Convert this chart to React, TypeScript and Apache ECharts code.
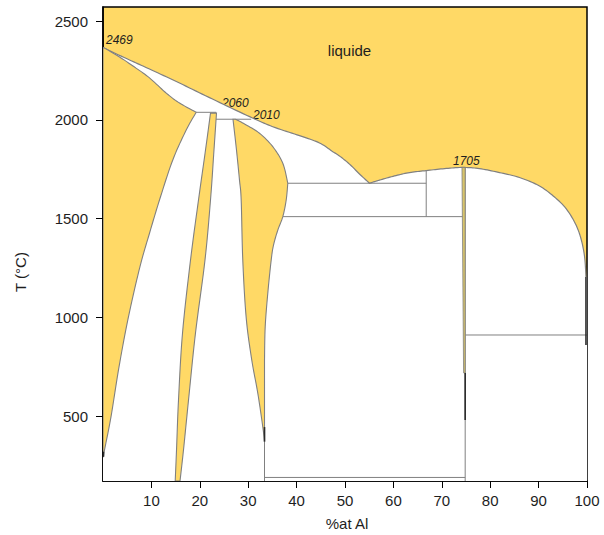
import React, { useEffect, useRef } from "react";
import * as echarts from "echarts";

// ---- Data (composition in at.% Al, temperature in °C) ----
const xTicks = [10, 20, 30, 40, 50, 60, 70, 80, 90, 100];
const yTicks = [500, 1000, 1500, 2000, 2500];

// liquidus, Nb side down to the 1605 eutectic, then up over NbAl3 to the Al side
const liquidusX = [0, 5.48, 9.61, 15.81, 22.62, 30.3, 35.08, 40.6, 44.73, 47.48, 48.86, 50.93, 52.99, 55.06, 57.13, 60.23, 63.33, 66.78, 70.56, 74.34, 77.79, 81.92, 86.05, 90.19, 93.29, 95.56, 97.42, 98.66, 99.48, 99.79];
const liquidusT = [2365, 2303, 2257, 2186, 2105, 2016, 1965, 1920, 1883, 1839, 1817, 1776, 1726, 1679, 1695, 1716, 1733, 1743, 1753, 1759, 1753, 1733, 1708, 1665, 1609, 1554, 1483, 1407, 1311, 1204];
const liquidusKink = 13;

const betaSolidusX = [0, 0.31, 3.41, 6.51, 9.61, 13.12, 15.81, 19.26];
const betaSolidusT = [2365, 2363, 2318, 2267, 2212, 2134, 2085, 2038];
const betaSolvusX = [19.26, 17.19, 14.42, 11.67, 9.61, 7.64, 5.27, 3.31, 1.65, 0.31, 0.1];
const betaSolvusT = [2038, 1948, 1797, 1594, 1426, 1257, 1004, 750, 497, 329, 295];

const deltaLeftX = [22.21, 21.18, 19.73, 18.08, 16.43, 15.6, 15.19, 14.92];
const deltaRightX = [23.45, 22.93, 22.21, 21.07, 19.11, 17.67, 16.63, 15.91];
const deltaT = [2034, 1847, 1594, 1290, 921, 582, 329, 172];

const sigmaLeftX = [26.86, 27.58, 28.2, 28.55, 28.88, 29.59, 30.74, 31.98, 33.02, 33.37];
const sigmaLeftT = [2003, 1847, 1695, 1594, 1290, 997, 784, 617, 445, 371];
const sigmaRightX = [27.38, 29.24, 32.33, 35.08, 37.15, 38.18, 37.85, 37.15, 36.12, 35.23, 34.75, 34.05, 33.51, 33.37];
const sigmaRightT = [2003, 1979, 1932, 1864, 1780, 1679, 1594, 1510, 1442, 1366, 1290, 1123, 951, 784];
const sigmaRightKink = 5;

const epsX = [74.17, 74.83, 74.83, 74.5];
const epsT = [1759, 1759, 719, 719];

// invariant / boundary lines: [x1, t1, x2, t2]
const grayLines = [
  [19.26, 2038, 23.39, 2038], // 2060 peritectic
  [23.2, 2003, 30.62, 2003], // 2010 peritectic
  [38.18, 1679, 66.78, 1679], // 1605 eutectic
  [37.15, 1510, 74.34, 1510],
  [66.78, 1743, 66.78, 1510],
  [33.37, 371, 33.37, 172],
  [33.37, 190, 74.83, 190],
  [74.83, 1759, 74.83, 172],
  [74.83, 911, 100, 911],
];
const darkLines = [
  [0.1, 320, 0.1, 295],
  [33.37, 445, 33.37, 371],
  [74.83, 719, 74.83, 481],
  [99.79, 1204, 99.79, 860],
];

const YELLOW = "#FFD966";
const GRAY = "#808080";
const DARK = "#2a2a2a";
const FONT = "'Liberation Sans', Arial, sans-serif";
const TXT = "#1e1e1e";

const zip = (xs: number[], ts: number[]) => xs.map((x, i) => [x, ts[i]]);

// Catmull-Rom rendering of a boundary through its pixel points
function catmull(pts: number[][], steps = 10): number[][] {
  if (pts.length < 3) return pts.slice();
  const out: number[][] = [];
  for (let i = 0; i < pts.length - 1; i++) {
    const p0 = pts[i - 1] || pts[i];
    const p1 = pts[i];
    const p2 = pts[i + 1];
    const p3 = pts[i + 2] || pts[i + 1];
    for (let s = 0; s < steps; s++) {
      const t = s / steps;
      const t2 = t * t;
      const t3 = t2 * t;
      const f = (a: number, b: number, c: number, d: number) =>
        0.5 * (2 * b + (-a + c) * t + (2 * a - 5 * b + 4 * c - d) * t2 + (-a + 3 * b - 3 * c + d) * t3);
      out.push([f(p0[0], p1[0], p2[0], p3[0]), f(p0[1], p1[1], p2[1], p3[1])]);
    }
  }
  out.push(pts[pts.length - 1]);
  return out;
}

export default function App() {
  const ref = useRef<HTMLDivElement>(null);
  useEffect(() => {
    document.body.style.margin = "0";
    if (!ref.current) return;
    const chart = echarts.init(ref.current, null, { renderer: "svg" });

    const sub = (a: string, s: string, b: string) => `{n|${a}}{s|${s}}{n|${b}}`;
    const richStyle = {
      n: { fontSize: 15, fontFamily: FONT, lineHeight: 18, fill: TXT },
      s: { fontSize: 10, fontFamily: FONT, lineHeight: 10, verticalAlign: "bottom", fill: TXT },
    };

    const option: any = {
      animation: false,
      grid: {
        left: 103,
        right: 17,
        top: 7,
        bottom: 54,
        show: true,
        backgroundColor: YELLOW,
        borderColor: "#000",
        borderWidth: 1.5,
        outerBoundsMode: "none",
      },
      xAxis: {
        type: "value",
        min: 0,
        max: 100,
        axisLine: { show: true, onZero: false, lineStyle: { color: "#000", width: 1.5 } },
        axisTick: { show: true, length: 7, customValues: xTicks, lineStyle: { color: "#000" } },
        axisLabel: { customValues: xTicks, color: TXT, fontSize: 15, fontFamily: FONT, margin: 12, formatter: (v: number) => String(v) },
        splitLine: { show: false },
      },
      yAxis: {
        type: "value",
        min: 172,
        max: 2571,
        axisLine: { show: true, onZero: false, lineStyle: { color: "#000", width: 1.5 } },
        axisTick: { show: true, length: 7, customValues: yTicks, lineStyle: { color: "#000" } },
        axisLabel: { customValues: yTicks, color: TXT, fontSize: 15, fontFamily: FONT, margin: 15, formatter: (v: number) => String(v) },
        splitLine: { show: false },
      },
      series: [
        {
          type: "custom",
          coordinateSystem: "cartesian2d",
          silent: true,
          clip: true,
          data: [[50, 1000]],
          renderItem: (_params: any, api: any) => {
            const c = (p: number[]) => api.coord(p);
            const sm = (xs: number[], ts: number[]) => catmull(zip(xs, ts).map(c));
            const children: any[] = [];
            const addPoly = (pts: number[][], fill: string, stroke: string | null, lw: number) =>
              children.push({ type: "polygon", shape: { points: pts }, style: { fill, stroke, lineWidth: lw } });
            const addLine = (pts: number[][], stroke: string, lw: number) =>
              children.push({ type: "polyline", shape: { points: pts }, style: { fill: "none", stroke, lineWidth: lw } });

            const liqA = sm(liquidusX.slice(0, liquidusKink + 1), liquidusT.slice(0, liquidusKink + 1));
            const liqB = sm(liquidusX.slice(liquidusKink), liquidusT.slice(liquidusKink));
            const liq = [...liqA, ...liqB.slice(1)];

            const white = [...liq, c([100, 1204]), c([100, 172]), c([0, 172])];
            const beta = [...sm(betaSolidusX, betaSolidusT), ...sm(betaSolvusX, betaSolvusT).slice(1), c([0, 295])];
            const delta = [...sm(deltaLeftX, deltaT), ...sm(deltaRightX, deltaT).reverse()];
            const sigR = [
              ...sm(sigmaRightX.slice(0, sigmaRightKink + 1), sigmaRightT.slice(0, sigmaRightKink + 1)),
              ...sm(sigmaRightX.slice(sigmaRightKink), sigmaRightT.slice(sigmaRightKink)).slice(1),
            ];
            const sigma = [...sm(sigmaLeftX, sigmaLeftT), ...sigR.reverse()];
            const eps = zip(epsX, epsT).map(c);

            addPoly(white, "#ffffff", null, 0);
            addLine(liq, GRAY, 1.2);
            grayLines.forEach((l) => addLine([c([l[0], l[1]]), c([l[2], l[3]])], GRAY, 1));
            addPoly(beta, YELLOW, GRAY, 1.1);
            addPoly(delta, YELLOW, GRAY, 1.1);
            addPoly(sigma, YELLOW, GRAY, 1.1);
            addPoly(eps, "#d8c46a", GRAY, 0.8);
            darkLines.forEach((l) => addLine([c([l[0], l[1]]), c([l[2], l[3]])], DARK, 1.6));
            return { type: "group", children };
          },
        },
      ],
      graphic: [
        { type: "text", x: 349.5, y: 50, style: { text: "liquide", font: `15px ${FONT}`, fill: TXT, align: "center", verticalAlign: "middle" } },
        { type: "text", x: 106, y: 40, style: { text: "2469", font: `italic 12px ${FONT}`, fill: TXT, align: "left", verticalAlign: "middle" } },
        { type: "text", x: 222, y: 103, style: { text: "2060", font: `italic 12px ${FONT}`, fill: TXT, align: "left", verticalAlign: "middle" } },
        { type: "text", x: 253, y: 115, style: { text: "2010", font: `italic 12px ${FONT}`, fill: TXT, align: "left", verticalAlign: "middle" } },
        { type: "text", x: 357, y: 192.5, style: { text: "1605", font: `italic 12px ${FONT}`, fill: TXT, align: "left", verticalAlign: "middle" } },
        { type: "text", x: 453, y: 161, style: { text: "1705", font: `italic 12px ${FONT}`, fill: TXT, align: "left", verticalAlign: "middle" } },
        { type: "text", x: 137.5, y: 150, rotation: Math.PI / 2, style: { text: "β-Nb", font: `15px ${FONT}`, fill: TXT, align: "center", verticalAlign: "middle" } },
        { type: "text", x: 200, y: 258, rotation: Math.PI / 2, style: { text: sub("δ-Nb", "3", "Al"), rich: richStyle, align: "center", verticalAlign: "middle" } },
        { type: "text", x: 259.5, y: 276, rotation: Math.PI / 2, style: { text: sub("σ-Nb", "2", "Al"), rich: richStyle, align: "center", verticalAlign: "middle" } },
        { type: "text", x: 475, y: 291, rotation: Math.PI / 2, style: { text: sub("ε-NbAl", "3", ""), rich: richStyle, align: "center", verticalAlign: "middle" } },
        { type: "text", x: 20, y: 272, rotation: Math.PI / 2, style: { text: "T (°C)", font: `15px ${FONT}`, fill: TXT, align: "center", verticalAlign: "middle" } },
        { type: "text", x: 347, y: 523, style: { text: "%at Al", font: `15px ${FONT}`, fill: TXT, align: "center", verticalAlign: "middle" } },
      ],
    };
    chart.setOption(option);
    return () => chart.dispose();
  }, []);
  return <div ref={ref} style={{ width: 604, height: 535 }} />;
}
